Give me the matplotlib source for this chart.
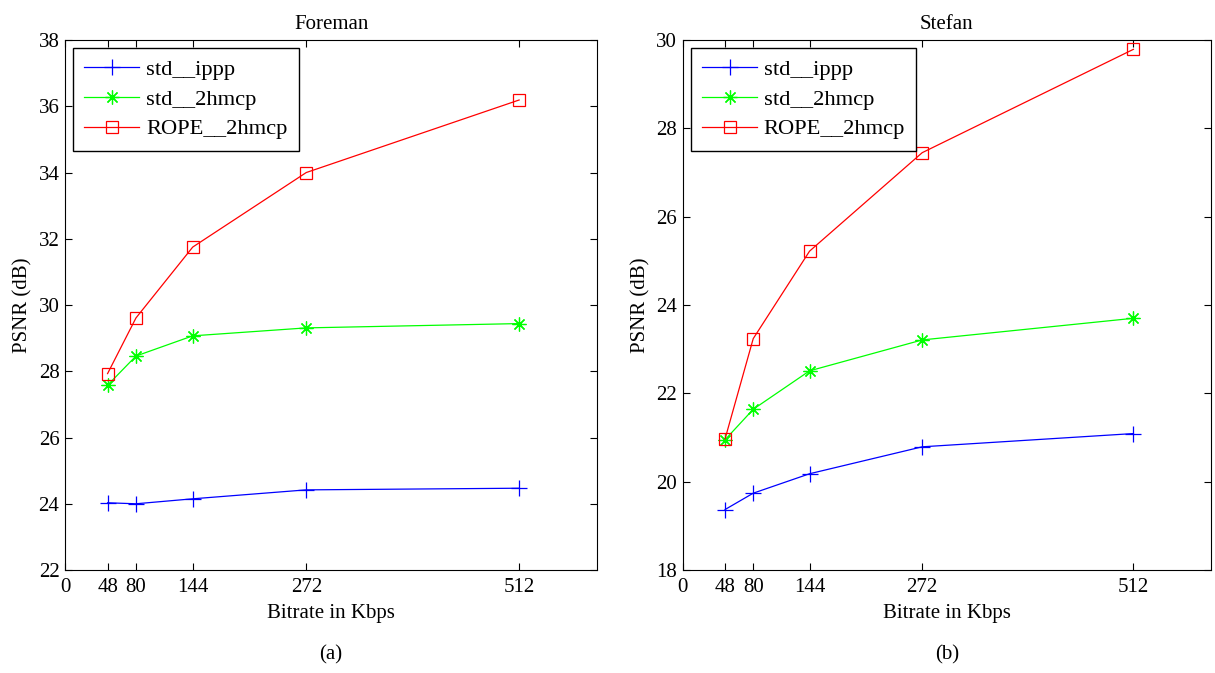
import numpy as np
import matplotlib.pyplot as plt

plt.rcParams['font.family'] = ['Liberation Serif', 'DejaVu Serif']
plt.rcParams['font.size'] = 15

bitrate = [48, 80, 144, 272, 512]
xticks = [0, 48, 80, 144, 272, 512]

# Foreman
foreman_ippp = [24.03, 24.00, 24.15, 24.42, 24.47]
foreman_2hmcp = [27.58, 28.46, 29.07, 29.31, 29.44]
foreman_rope = [27.93, 29.61, 31.75, 34.00, 36.19]

# Stefan
stefan_ippp = [19.37, 19.74, 20.18, 20.79, 21.09]
stefan_2hmcp = [20.95, 21.64, 22.51, 23.21, 23.70]
stefan_rope = [20.97, 23.24, 25.22, 27.45, 29.79]

labels = ['std__ippp', 'std__2hmcp', 'ROPE__2hmcp']

fig = plt.figure(figsize=(12.15, 6.73), dpi=100)
ax1 = fig.add_axes([0.0535, 0.153, 0.438, 0.7875])
ax2 = fig.add_axes([0.562, 0.153, 0.4346, 0.7875])


def draw(ax, ippp, hmcp, rope, title, ylim, sub):
    ax.plot(bitrate, ippp, '-', color='b', marker='+', ms=11, mew=0.9, lw=0.9, label=labels[0])
    ax.plot(bitrate, hmcp, '-', color='#00ff00', marker=(8, 2, 0), ms=10, mew=0.9, lw=0.9, label=labels[1])
    ax.plot(bitrate, rope, '-', color='r', marker='s', ms=9, mfc='none', mew=0.9, lw=0.9, label=labels[2])
    ax.set_xlim(0, 600)
    ax.set_ylim(*ylim)
    ax.set_xticks(xticks)
    ax.set_yticks(np.arange(ylim[0], ylim[1] + 1, 2))
    ax.tick_params(direction='in', top=True, right=True, length=5, width=0.8)
    ax.tick_params(axis='x', pad=6)
    ax.tick_params(axis='y', pad=4)
    ax.set_title(title, fontsize=15, pad=8)
    ax.set_xlabel('Bitrate in Kbps', labelpad=5)
    ax.set_ylabel('PSNR (dB)', labelpad=4)
    ax.text(0.5, -0.16, sub, transform=ax.transAxes, ha='center', va='center')
    leg = ax.legend(loc='upper left', fancybox=False, edgecolor='k', framealpha=1,
                    fontsize=16.2, handlelength=2.45, handletextpad=0.3, borderpad=0.5,
                    borderaxespad=0.35, labelspacing=0.4)
    leg.get_frame().set_linewidth(1)


draw(ax1, foreman_ippp, foreman_2hmcp, foreman_rope, 'Foreman', (22, 38), '(a)')
draw(ax2, stefan_ippp, stefan_2hmcp, stefan_rope, 'Stefan', (18, 30), '(b)')

fig.savefig('out.png', dpi=100)
